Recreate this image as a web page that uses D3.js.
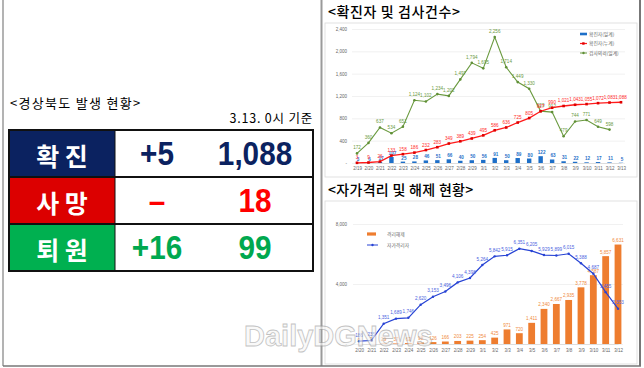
<!DOCTYPE html>
<html>
<head>
<meta charset="utf-8">
<script src="https://cdn.jsdelivr.net/npm/d3@7"></script>
<style>
  body { margin: 0; background: #fff; }
  svg { display: block; }
</style>
</head>
<body>
<svg id="chart" width="644" height="368"></svg>
<script>
// left table
const rowLabels = ['확 진', '사 망', '퇴 원'];
const rowChange = ['+5', '–', '+16'];
const rowTotal = ['1,088', '18', '99'];
const rowFill = ['#0b2260', '#dc0000', '#00b050'];
const rowText = ['#0b2260', '#ff0000', '#00a84f'];

// top chart: confirmed + tests
const dates1 = ['2/19', '2/20', '2/21', '2/22', '2/23', '2/24', '2/25', '2/26', '2/27', '2/28', '2/29',
  '3/1', '3/2', '3/3', '3/4', '3/5', '3/6', '3/7', '3/8', '3/9', '3/10', '3/11', '3/12', '3/13'];
const dailyConfirmed = [3, 6, 17, 107, 25, 28, 46, 51, 66, 40, 50, 56, 91, 50, 89, 80, 122, 63, 31, 22, 12, 17, 11, 5];
const cumConfirmed = [3, 9, 26, 133, 158, 186, 232, 283, 349, 389, 439, 495, 586, 636, 725, 805, 927, 990, 1021, 1043, 1055, 1072, 1083, 1088];
const dailyTests = [172, 360, 637, 534, 651, 1124, 1102, 1234, 1202, 1497, 1794, 1695, 2256, 1714, 1449, 1330, 929, 912, 479, 744, 771, 649, 598, null];
const ticks1 = [0, 400, 800, 1200, 1600, 2000, 2400];
const legend1 = ['확진자(일계)', '확진자(누계)', '검사의뢰(일계)'];

// bottom chart: self-isolation
const dates2 = ['2/20', '2/21', '2/22', '2/23', '2/24', '2/25', '2/26', '2/27', '2/28', '2/29',
  '3/1', '3/2', '3/3', '3/4', '3/5', '3/6', '3/7', '3/8', '3/9', '3/10', '3/11', '3/12'];
const released = [0, 2, 29, 37, 62, 98, 126, 166, 203, 225, 254, 425, 971, 720, 1411, 2340, 2667, 2935, 3778, 4587, 5857, 6631];
const isolated = [186, 235, 1351, 1689, 1746, 2620, 3153, 3496, 4106, 4398, 5264, 5842, 5915, 6351, 6205, 5929, 5899, 6015, 5388, 4687, 3455, 2353];
const ticks2 = [0, 4000, 8000];
const legend2 = ['격리해제', '자가격리자'];

const fmt = d3.format(',');
const KR = '"Noto Sans CJK KR", "Noto Sans", sans-serif';
const NUM = '"Liberation Sans", Arial, sans-serif';

const svg = d3.select('#chart');

// frames
svg.append('rect').attr('x', 0).attr('y', 0).attr('width', 644).attr('height', 368).attr('fill', '#fff');
svg.append('line').attr('x1', 3).attr('x2', 3).attr('y1', 0).attr('y2', 366).attr('stroke', '#9a9a9a').attr('stroke-width', 1.5);
svg.append('line').attr('x1', 321.5).attr('x2', 321.5).attr('y1', 0).attr('y2', 366).attr('stroke', '#9a9a9a').attr('stroke-width', 2);
svg.append('line').attr('x1', 640).attr('x2', 640).attr('y1', 0).attr('y2', 366).attr('stroke', '#777').attr('stroke-width', 2);
svg.append('line').attr('x1', 3).attr('x2', 641).attr('y1', 366).attr('y2', 366).attr('stroke', '#777').attr('stroke-width', 1.5);
svg.append('rect').attr('x', 325).attr('y', 23).attr('width', 312).attr('height', 154)
  .attr('fill', 'none').attr('stroke', '#d9d9d9').attr('stroke-width', 0.8);
svg.append('rect').attr('x', 325).attr('y', 201).attr('width', 312).attr('height', 163)
  .attr('fill', 'none').attr('stroke', '#d9d9d9').attr('stroke-width', 0.8);

// ---------- left panel ----------
const leftG = svg.append('g');
leftG.append('text').attr('x', 10).attr('y', 108)
  .style('font-family', KR).style('font-size', '13px').style('letter-spacing', '1.3px')
  .text('<경상북도 발생 현황>');
leftG.append('text').attr('x', 313).attr('y', 123).attr('text-anchor', 'end')
  .style('font-family', KR).style('font-size', '12.5px').style('letter-spacing', '0.8px')
  .text('3.13. 0시 기준');

const tTop = 130, rowH = 47, tLeft = 9, tRight = 313, labW = 106;
const col2 = 157, col3 = 255;
const rows = leftG.selectAll('g.row').data(rowLabels).join('g').attr('class', 'row')
  .attr('transform', (d, i) => `translate(0,${tTop + i * rowH})`);
rows.append('rect').attr('x', tLeft).attr('y', 0).attr('width', labW).attr('height', rowH)
  .attr('fill', (d, i) => rowFill[i]);
rows.append('text').attr('x', tLeft + labW / 2).attr('y', rowH / 2 + 1)
  .attr('text-anchor', 'middle').attr('dominant-baseline', 'central')
  .style('font-family', KR).style('font-weight', 700).style('font-size', '25px').attr('fill', '#fff')
  .text(d => d);
rows.append('text').attr('text-anchor', 'middle')
  .attr('transform', `translate(${col2},${rowH / 2 + 11.5}) scale(0.9,1)`)
  .style('font-family', NUM).style('font-weight', 700).style('font-size', '33px')
  .attr('fill', (d, i) => rowText[i])
  .text((d, i) => rowChange[i]);
rows.append('text').attr('text-anchor', 'middle')
  .attr('transform', `translate(${col3},${rowH / 2 + 11.5}) scale(0.9,1)`)
  .style('font-family', NUM).style('font-weight', 700).style('font-size', '33px')
  .attr('fill', (d, i) => rowText[i])
  .text((d, i) => rowTotal[i]);
rows.filter((d, i) => i > 0).append('line').attr('x1', tLeft).attr('x2', tRight).attr('y1', 0).attr('y2', 0)
  .attr('stroke', '#111').attr('stroke-width', 2);
leftG.append('rect').attr('x', tLeft).attr('y', tTop).attr('width', tRight - tLeft).attr('height', rowH * 3)
  .attr('fill', 'none').attr('stroke', '#111').attr('stroke-width', 2);
leftG.append('line').attr('x1', tLeft + labW).attr('x2', tLeft + labW).attr('y1', tTop).attr('y2', tTop + rowH * 3)
  .attr('stroke', '#111').attr('stroke-width', 1);

// ---------- top chart ----------
const topG = svg.append('g');
topG.append('text').attr('x', 328).attr('y', 17)
  .style('font-family', KR).style('font-size', '14px').style('font-weight', 500).style('letter-spacing', '0.6px')
  .text('<확진자  및  검사건수>');

const x1 = d3.scalePoint().domain(dates1).range([357, 621]);
const y1 = d3.scaleLinear().domain([0, 2400]).range([163, 29]);

const grid1 = topG.append('g').attr('transform', 'translate(352,0)')
  .call(d3.axisLeft(y1).tickValues(ticks1).tickSize(-273).tickFormat(d => d === 0 ? '-' : fmt(d)));
grid1.select('.domain').remove();
grid1.selectAll('.tick line').attr('stroke', '#e8e8e8').attr('stroke-width', 0.6);
grid1.selectAll('.tick text').attr('x', -5).attr('fill', '#666')
  .style('font-family', NUM).style('font-size', '4.5px');

const xa1 = topG.append('g').attr('transform', 'translate(0,163)')
  .call(d3.axisBottom(x1).tickSize(0).tickPadding(4));
xa1.select('.domain').attr('stroke', '#d0d0d0').attr('stroke-width', 0.6);
xa1.selectAll('.tick text').attr('fill', '#666').style('font-family', NUM).style('font-size', '4.5px');

// daily confirmed bars
topG.selectAll('rect.bar1').data(dates1).join('rect').attr('class', 'bar1')
  .attr('x', d => x1(d) - 2.2).attr('width', 4.4)
  .attr('y', (d, i) => y1(dailyConfirmed[i])).attr('height', (d, i) => y1(0) - y1(dailyConfirmed[i]))
  .attr('fill', '#1e6fc8');
topG.selectAll('text.lab1').data(dates1).join('text').attr('class', 'lab1')
  .attr('x', d => x1(d) + 1).attr('y', (d, i) => y1(dailyConfirmed[i]) - 2)
  .attr('text-anchor', 'middle').attr('fill', '#1e6fc8')
  .style('font-family', NUM).style('font-size', '4.6px').style('font-weight', 700)
  .text((d, i) => fmt(dailyConfirmed[i]));

// tests line
const testPts = dates1.map((d, i) => [d, dailyTests[i]]).filter(p => p[1] !== null);
const line1 = d3.line().x(p => x1(p[0])).y(p => y1(p[1]));
topG.append('path').datum(testPts).attr('d', line1)
  .attr('fill', 'none').attr('stroke', '#6a9a3f').attr('stroke-width', 1.1);
topG.selectAll('circle.testpt').data(testPts).join('circle').attr('class', 'testpt')
  .attr('cx', p => x1(p[0])).attr('cy', p => y1(p[1])).attr('r', 1.3).attr('fill', '#5f8f35');
topG.selectAll('text.testlab').data(testPts).join('text').attr('class', 'testlab')
  .attr('x', p => x1(p[0])).attr('y', p => y1(p[1]) - 4)
  .attr('text-anchor', 'middle').attr('fill', '#6a9a3f')
  .style('font-family', NUM).style('font-size', '4.6px')
  .text(p => fmt(p[1]));

// cumulative confirmed line
const cumPts = dates1.map((d, i) => [d, cumConfirmed[i]]);
topG.append('path').datum(cumPts).attr('d', line1)
  .attr('fill', 'none').attr('stroke', '#ff1a1a').attr('stroke-width', 1.3);
topG.selectAll('rect.cumpt').data(cumPts).join('rect').attr('class', 'cumpt')
  .attr('x', p => x1(p[0]) - 1.3).attr('y', p => y1(p[1]) - 1.3).attr('width', 2.6).attr('height', 2.6)
  .attr('fill', '#e00000');
topG.selectAll('text.cumlab').data(cumPts).join('text').attr('class', 'cumlab')
  .attr('x', p => x1(p[0])).attr('y', p => y1(p[1]) - 3.5)
  .attr('text-anchor', 'middle').attr('fill', '#ff2a2a')
  .style('font-family', NUM).style('font-size', '4.6px')
  .text(p => fmt(p[1]));

// legend
const lg1 = topG.selectAll('g.lg1').data(legend1).join('g').attr('class', 'lg1')
  .attr('transform', (d, i) => `translate(580,${34 + i * 9.5})`);
lg1.filter((d, i) => i === 0).append('rect').attr('x', 0).attr('y', -1.3).attr('width', 7).attr('height', 2.6).attr('fill', '#1e6fc8');
lg1.filter((d, i) => i === 1).append('line').attr('x1', 0).attr('x2', 7).attr('stroke', '#ff1a1a').attr('stroke-width', 1.2);
lg1.filter((d, i) => i === 1).append('rect').attr('x', 2.2).attr('y', -1.2).attr('width', 2.4).attr('height', 2.4).attr('fill', '#e00000');
lg1.filter((d, i) => i === 2).append('line').attr('x1', 0).attr('x2', 7).attr('stroke', '#6a9a3f').attr('stroke-width', 1);
lg1.filter((d, i) => i === 2).append('circle').attr('cx', 3.5).attr('r', 1.2).attr('fill', '#5f8f35');
lg1.append('text').attr('x', 9).attr('y', 1.6).attr('fill', '#666')
  .style('font-family', KR).style('font-size', '4.8px').text(d => d);

// ---------- bottom chart ----------
const botG = svg.append('g');
botG.append('text').attr('x', 328).attr('y', 195)
  .style('font-family', KR).style('font-size', '14px').style('font-weight', 500).style('letter-spacing', '0.3px')
  .text('<자가격리 및 해제 현황>');

const x2 = d3.scalePoint().domain(dates2).range([359, 618]);
const y2 = d3.scaleLinear().domain([0, 8000]).range([344, 224]);

const grid2 = botG.append('g').attr('transform', 'translate(353,0)')
  .call(d3.axisLeft(y2).tickValues(ticks2).tickSize(-270).tickFormat(d => d === 0 ? '-' : fmt(d)));
grid2.select('.domain').remove();
grid2.selectAll('.tick line').attr('stroke', '#e8e8e8').attr('stroke-width', 0.6);
grid2.selectAll('.tick text').attr('x', -6).attr('fill', '#666')
  .style('font-family', NUM).style('font-size', '4.5px');

const xa2 = botG.append('g').attr('transform', 'translate(0,344)')
  .call(d3.axisBottom(x2).tickSize(0).tickPadding(5));
xa2.select('.domain').attr('stroke', '#d0d0d0').attr('stroke-width', 0.6);
xa2.selectAll('.tick text').attr('fill', '#666').style('font-family', NUM).style('font-size', '4.5px');

botG.selectAll('rect.bar2').data(dates2).join('rect').attr('class', 'bar2')
  .attr('x', d => x2(d) - 3.4).attr('width', 6.8)
  .attr('y', (d, i) => y2(released[i])).attr('height', (d, i) => y2(0) - y2(released[i]))
  .attr('fill', '#ee7d2f');
botG.selectAll('text.lab2').data(dates2).join('text').attr('class', 'lab2')
  .attr('x', d => x2(d)).attr('y', (d, i) => y2(released[i]) - 2.5)
  .attr('text-anchor', 'middle').attr('fill', '#f08a3e')
  .style('font-family', NUM).style('font-size', '4.6px')
  .text((d, i) => fmt(released[i]));

const isoPts = dates2.map((d, i) => [d, isolated[i]]);
const line2 = d3.line().x(p => x2(p[0])).y(p => y2(p[1]));
botG.append('path').datum(isoPts).attr('d', line2)
  .attr('fill', 'none').attr('stroke', '#2743d4').attr('stroke-width', 1.2);
botG.selectAll('circle.isopt').data(isoPts).join('circle').attr('class', 'isopt')
  .attr('cx', p => x2(p[0])).attr('cy', p => y2(p[1])).attr('r', 1.2).attr('fill', '#2743d4');
botG.selectAll('text.isolab').data(isoPts).join('text').attr('class', 'isolab')
  .attr('x', p => x2(p[0])).attr('y', p => y2(p[1]) - 4.5)
  .attr('text-anchor', 'middle').attr('fill', '#4a63e0')
  .style('font-family', NUM).style('font-size', '4.6px')
  .text(p => fmt(p[1]));

const lg2 = botG.selectAll('g.lg2').data(legend2).join('g').attr('class', 'lg2')
  .attr('transform', (d, i) => `translate(367,${234 + i * 11})`);
lg2.filter((d, i) => i === 0).append('rect').attr('x', 0).attr('y', -1.6).attr('width', 9).attr('height', 3.2).attr('fill', '#ee7d2f');
lg2.filter((d, i) => i === 1).append('line').attr('x1', 0).attr('x2', 11).attr('stroke', '#2743d4').attr('stroke-width', 1);
lg2.filter((d, i) => i === 1).append('circle').attr('cx', 5.5).attr('r', 1.2).attr('fill', '#2743d4');
lg2.append('text').attr('x', 20).attr('y', 1.6).attr('fill', '#666')
  .style('font-family', KR).style('font-size', '4.8px').text(d => d);

// watermark
svg.append('text').attr('x', 244).attr('y', 346)
  .style('font-family', NUM).style('font-weight', 700).style('font-size', '29px')
  .attr('fill', '#f6f6f6').attr('stroke', '#999').attr('stroke-width', 0.8).attr('opacity', 0.6)
  .text('DailyDGNews');
</script>
</body>
</html>
